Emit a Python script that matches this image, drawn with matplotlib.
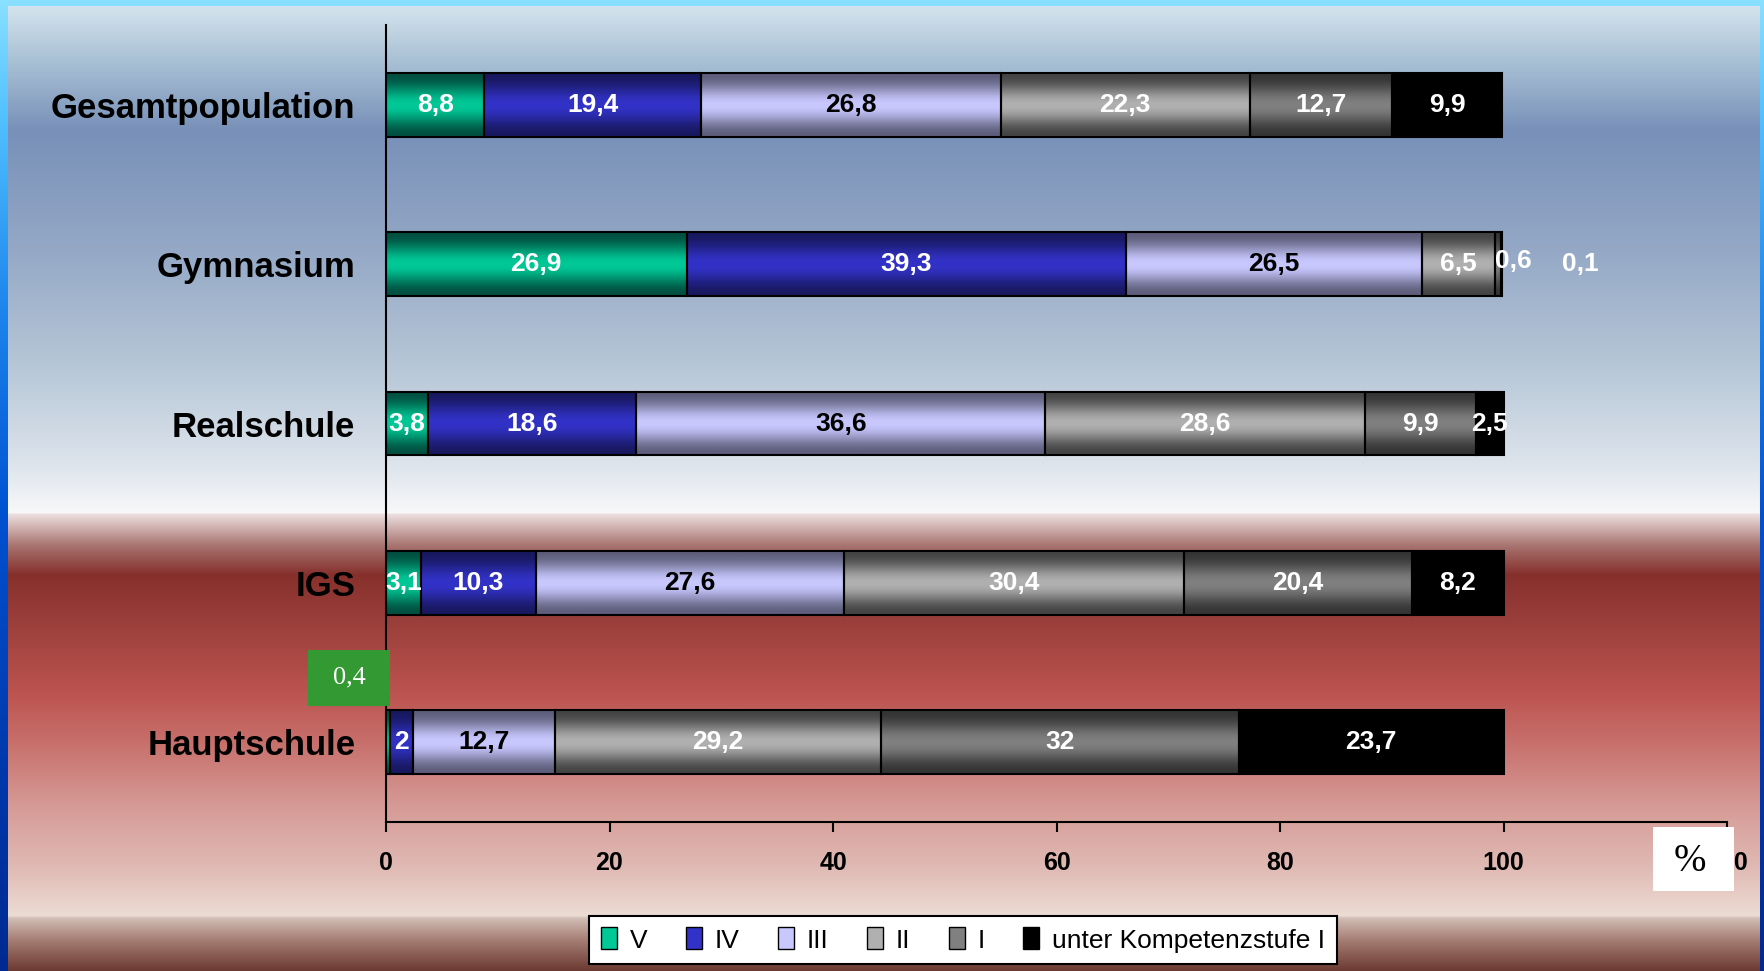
import numpy as np
import matplotlib
matplotlib.use('Agg')
import matplotlib.pyplot as plt
from matplotlib.colors import LinearSegmentedColormap, to_rgb
from matplotlib.patches import Patch, Rectangle

plt.rcParams['font.family'] = ['Liberation Sans', 'DejaVu Sans']

# data: share of pupils per competence level (%)
schools = ['Gesamtpopulation', 'Gymnasium', 'Realschule', 'IGS', 'Hauptschule']
levels = ['V', 'IV', 'III', 'II', 'I', 'unter Kompetenzstufe I']

stufe_v = [8.8, 26.9, 3.8, 3.1, 0.4]
stufe_iv = [19.4, 39.3, 18.6, 10.3, 2.0]
stufe_iii = [26.8, 26.5, 36.6, 27.6, 12.7]
stufe_ii = [22.3, 6.5, 28.6, 30.4, 29.2]
stufe_i = [12.7, 0.6, 9.9, 20.4, 32.0]
unter_i = [9.9, 0.1, 2.5, 8.2, 23.7]

x_ticks = [0, 20, 40, 60, 80, 100, 120]

# styles
mid_colors = ['#00c896', '#3232c8', '#c8c8ff', '#b0b0b0', '#808080', '#000000']
edge_colors = ['#005040', '#181860', '#5e5e7c', '#444444', '#343434', '#000000']
label_colors = ['white', 'white', 'black', 'white', 'white', 'white']

W, H = 1764, 971


def vgrad(stops, n):
    """vertical colour ramp, stops = [(pixel_row, colour), ...]"""
    ys = [s[0] for s in stops]
    rgb = np.array([to_rgb(s[1]) for s in stops])
    rows = np.arange(n)
    arr = np.stack([np.interp(rows, ys, rgb[:, k]) for k in range(3)], axis=-1)
    return arr[:, None, :]


frame_stops = [(0, '#8ae0ff'), (120, '#50c0ff'), (300, '#1e88ee'), (520, '#0050d0'),
               (800, '#0036a8'), (971, '#002a90')]
panel_stops = [(0, '#d8e7f0'), (62, '#a8c0d4'), (130, '#7890b8'), (248, '#94a8c6'),
               (371, '#b8c8d8'), (464, '#dde4ec'), (512, '#f8f8fa'), (514, '#ecdede'),
               (545, '#a87470'), (574, '#86302c'), (619, '#9a3e3a'), (693, '#bc5450'),
               (743, '#c8706c'), (805, '#d69a96'), (867, '#e0bab4'), (915, '#ecdcd4'),
               (918, '#d0bcb4'), (940, '#a47c72'), (971, '#6a3830')]

fig = plt.figure(figsize=(W / 100, H / 100), dpi=100)

bg = fig.add_axes([0, 0, 1, 1])
bg.set_axis_off()
bg.imshow(vgrad(frame_stops, H), extent=[0, W, H, 0], aspect='auto')
bg.imshow(vgrad(panel_stops, H)[6:], extent=[8, 1760, H, 6], aspect='auto')
bg.set_xlim(0, W)
bg.set_ylim(H, 0)

ax = fig.add_axes([386 / W, 1 - 822 / H, (1727 - 386) / W, (822 - 25) / H])
ax.patch.set_visible(False)

series = [stufe_v, stufe_iv, stufe_iii, stufe_ii, stufe_i, unter_i]
y = np.arange(len(schools))
left = np.zeros(len(schools))
shade = (np.sin(np.pi * np.linspace(0, 1, 80)) ** 2.2)[:, None]

# manual label shifts (row, level) -> (dx, dy) in data units
label_shift = {(1, 4): (1.4, -0.02), (1, 5): (7.0, 0.0)}

for k, vals in enumerate(series):
    bars = ax.barh(y, vals, left=left, height=0.4, color=mid_colors[k],
                   edgecolor='black', linewidth=1.5, zorder=3)
    cmap = LinearSegmentedColormap.from_list('s%d' % k, [edge_colors[k], mid_colors[k]])
    for i, p in enumerate(bars):
        x0, y0, w, h = p.get_x(), p.get_y(), p.get_width(), p.get_height()
        ax.imshow(shade, cmap=cmap, vmin=0, vmax=1, extent=[x0, x0 + w, y0 + h, y0],
                  aspect='auto', zorder=2, interpolation='bilinear')
        p.set_facecolor('none')

        txt = ('%g' % vals[i]).replace('.', ',')
        cx, cy = x0 + w / 2, y0 + h / 2
        if i == 4 and k == 0:
            # tiny Hauptschule segment: value shown in a green box above the bar
            ax.add_patch(Rectangle((cx - 7.2, cy - 0.58), 7.36, 0.35, facecolor='#339933',
                                   edgecolor='none', clip_on=False, zorder=4))
            ax.text(cx - 3.5, cy - 0.405, txt, color='white', fontsize=19,
                    family='Liberation Serif', ha='center', va='center', zorder=5)
            continue
        dx, dy = label_shift.get((i, k), (0, 0))
        ax.text(cx + dx, cy + dy, txt, color=label_colors[k], fontsize=19,
                fontweight='bold', ha='center', va='center', zorder=5, clip_on=False)
    left += np.array(vals)

ax.set_xlim(0, 120)
ax.set_ylim(len(schools) - 0.5, -0.5)
ax.set_yticks(y, labels=schools, fontsize=25, fontweight='bold')
ax.set_xticks(x_ticks, labels=[str(t) for t in x_ticks], fontsize=18, fontweight='bold')
ax.tick_params(axis='y', length=0, pad=22)
ax.tick_params(axis='x', length=7, width=1.5, pad=14)
ax.spines[['top', 'right']].set_visible(False)
ax.spines['left'].set_linewidth(1.5)
ax.spines['bottom'].set_linewidth(1.5)

# white box with the unit, covering the last tick label
fig.add_artist(Rectangle((1653 / W, 1 - 891 / H), 81 / W, 64 / H, transform=fig.transFigure,
                         facecolor='white', edgecolor='none', zorder=5))
fig.text(1690 / W, 1 - 861 / H, '%', family='Liberation Serif', fontsize=28,
         ha='center', va='center', zorder=6)

handles = [Patch(facecolor=mid_colors[k], edgecolor='black') for k in range(len(levels))]
leg = fig.legend(handles, levels, loc='center', bbox_to_anchor=(963 / W, 1 - 940 / H),
                 ncol=6, frameon=True, fancybox=False, edgecolor='black', framealpha=1,
                 fontsize=19, handlelength=0.6, handleheight=0.9, handletextpad=0.5,
                 columnspacing=1.45, borderpad=0.45)
leg.get_frame().set_linewidth(1.5)

fig.savefig('out.png', dpi=100)
